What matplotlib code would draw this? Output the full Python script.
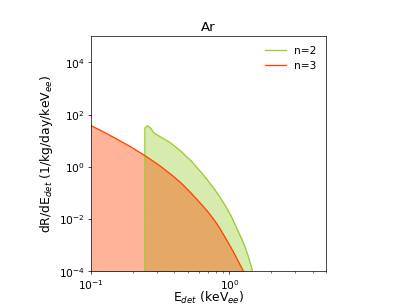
import numpy as np
import matplotlib
matplotlib.use("Agg")
import matplotlib.pyplot as plt

# n=2 spectrum
E_n2 = [0.244, 0.245, 0.255, 0.270, 0.285, 0.308, 0.328, 0.370, 0.408, 0.447, 0.529,
        0.625, 0.700, 0.782, 0.875, 0.950, 1.035, 1.157, 1.224, 1.300, 1.368, 1.459, 1.5]
R_n2 = [1e-8, 30.8, 37.8, 30.3, 19.8, 15.6, 12.7, 8.8, 5.88, 3.94, 1.70,
        0.62, 0.30, 0.138, 0.057, 0.028, 0.0125, 0.0034, 0.0018, 8.5e-4, 3.8e-4, 1.2e-4, 2e-5]

# n=3 spectrum
E_n3 = [0.100, 0.120, 0.150, 0.190, 0.240, 0.280, 0.319, 0.385, 0.447, 0.530,
        0.625, 0.700, 0.778, 0.850, 0.920, 1.000, 1.087, 1.170, 1.265, 1.3]
R_n3 = [37.8, 23.5, 12.5, 6.2, 2.9, 1.68, 1.04, 0.48, 0.243, 0.098,
        0.0378, 0.019, 0.00917, 0.0046, 0.00222, 0.00105, 4.7e-4, 2.2e-4, 1e-4, 3e-5]

fig = plt.figure(figsize=(6.4, 4.8), dpi=63.6)
ax = fig.add_subplot(111)
ax.set_box_aspect(1)

ax.plot(E_n2, R_n2, color='yellowgreen', lw=1.5, label='n=2')
ax.fill_between(E_n2, 1e-10, R_n2, color='yellowgreen', alpha=0.4, lw=0)
ax.plot(E_n3, R_n3, color='orangered', lw=1.5, label='n=3')
ax.fill_between(E_n3, 1e-10, R_n3, color='orangered', alpha=0.4, lw=0)

ax.set_xscale('log')
ax.set_yscale('log')
ax.set_xlim(0.1, 5)
ax.set_ylim(1e-4, 1e5)
ax.set_yticks([1e-4, 1e-2, 1e0, 1e2, 1e4])
ax.yaxis.set_minor_locator(matplotlib.ticker.NullLocator())

ax.set_title('Ar', fontsize=15)
ax.set_xlabel('E$_{det}$ (keV$_{ee}$)', fontsize=14, labelpad=-1.5)
ax.set_ylabel('dR/dE$_{det}$ (1/kg/day/keV$_{ee}$)', fontsize=14)
ax.tick_params(labelsize=12)
ax.legend(frameon=False, fontsize=12, loc='upper right')

fig.savefig('out.png', dpi=63.6)
